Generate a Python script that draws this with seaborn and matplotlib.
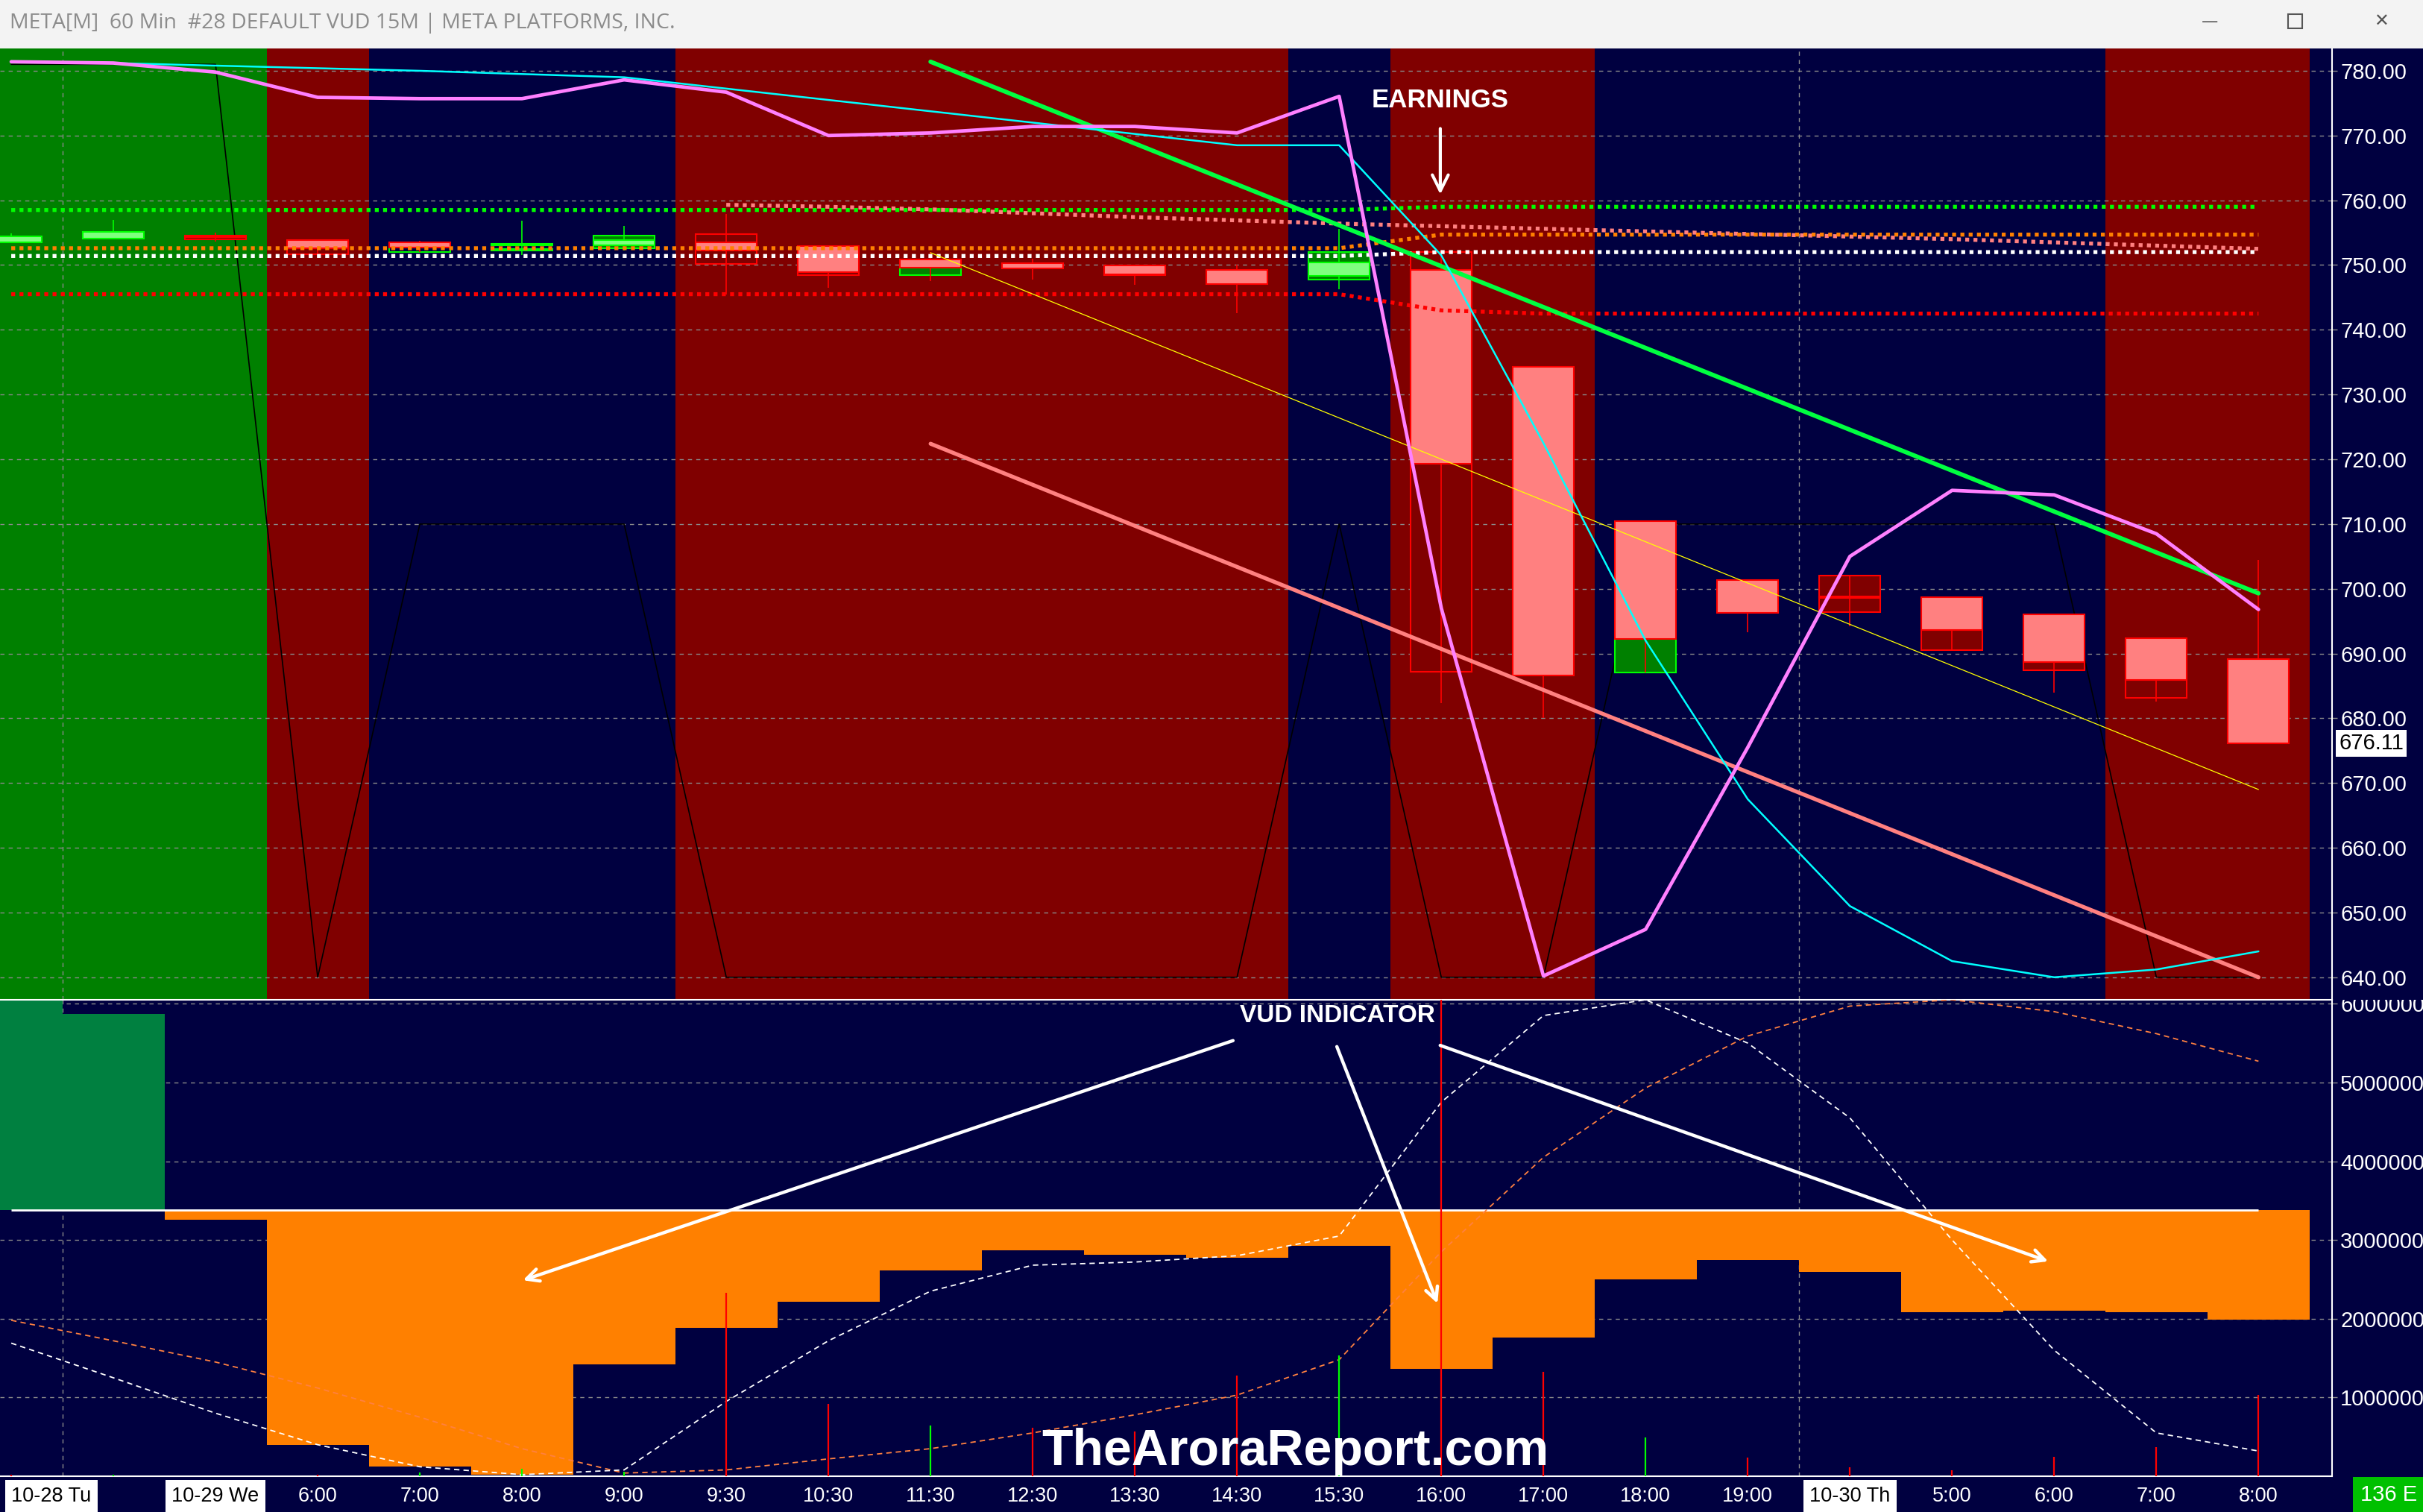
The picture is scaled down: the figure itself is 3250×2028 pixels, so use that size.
import matplotlib
matplotlib.use("Agg")
import numpy as np
import pandas as pd
import matplotlib.pyplot as plt
import matplotlib.transforms as mtransforms
from matplotlib.patches import Rectangle
from matplotlib import font_manager
import seaborn as sns

# ---------------- data (60 min bars, index 0..22) ----------------
x_labels = ["10-28 Tu", "", "10-29 We", "6:00", "7:00", "8:00", "9:00", "9:30", "10:30", "11:30",
            "12:30", "13:30", "14:30", "15:30", "16:00", "17:00", "18:00", "19:00", "10-30 Th",
            "5:00", "6:00", "7:00", "8:00"]
regime = ["g", "g", "g", "r", "b", "b", "b", "r", "r", "r", "r", "r", "r", "b", "r", "r",
          "b", "b", "b", "b", "b", "r", "r"]
regime_level = [781.0, 781.0, 781.0, 640.0, 710.0, 710.0, 710.0, 640.0, 640.0, 640.0, 640.0, 640.0,
                640.0, 710.0, 640.0, 640.0, 710.0, 710.0, 710.0, 710.0, 710.0, 640.0, 640.0]

bar_open = [753.5, 754.05, 754.5, 753.9, 753.55, 753.0, 753.1, 753.5, 752.9, 750.9, 750.3, 749.9,
            749.3, 748.3, 749.3, 734.3, 710.4, 701.3, 698.8, 698.7, 696.1, 692.4, 689.1]
bar_high = [754.9, 757.0, 755.0, 753.9, 753.7, 756.9, 756.0, 757.9, 752.9, 752.0, 751.0, 749.9,
            750.0, 755.6, 752.0, 734.3, 710.4, 701.3, 702.0, 698.7, 696.1, 692.4, 704.5]
bar_low = [753.5, 754.0, 753.6, 751.7, 752.0, 751.5, 752.2, 745.4, 746.5, 747.5, 747.8, 747.0,
           742.6, 746.3, 682.4, 680.1, 687.1, 693.3, 694.2, 690.5, 684.0, 682.6, 676.1]
bar_close = [754.4, 755.1, 754.3, 752.6, 752.7, 753.3, 753.8, 752.3, 748.9, 749.6, 749.5, 748.6,
             747.1, 750.4, 719.3, 686.6, 692.2, 696.3, 698.6, 693.6, 688.7, 685.9, 676.11]

nan = np.nan
box2_low = [nan, nan, 754.0, 751.7, 752.0, 752.2, 752.55, 750.15, 748.5, 748.4, nan, 748.4, nan,
            747.8, 687.2, nan, 687.1, nan, 696.4, 690.5, 687.4, 683.1, nan]
box2_high = [nan, nan, 754.3, 752.6, 752.7, 752.5, 754.6, 754.8, 748.9, 749.6, nan, 748.6, nan,
             752.0, 752.0, nan, 692.2, nan, 702.0, 693.6, 688.7, 685.9, nan]
box2_kind = ["", "", "r", "r", "go", "g", "g", "r", "r", "g", "", "r", "", "g", "r", "", "g", "",
             "r", "r", "r", "r", ""]

ma_magenta = [781.4, 781.2, 779.8, 775.9, 775.7, 775.7, 778.6, 776.7, 770.0, 770.4, 771.4, 771.4,
              770.4, 776.05, 697.0, 640.2, 647.4, 675.5, 705.0, 715.2, 714.5, 708.5, 696.8]
ma_cyan = [781.4, 781.2, 780.8, 780.4, 780.0, 779.5, 779.0, 777.25, 775.5, 773.75, 772.0, 770.25,
           768.5, 768.5, 751.5, 722.5, 692.0, 667.5, 651.0, 642.5, 640.0, 641.2, 644.0]

lvl_green = [758.5, 758.5, 758.5, 758.5, 758.5, 758.5, 758.5, 758.5, 758.5, 758.5, 758.5, 758.5,
             758.5, 758.5, 759.0, 759.0, 759.0, 759.0, 759.0, 759.0, 759.0, 759.0, 759.0]
lvl_orange = [752.6, 752.6, 752.6, 752.6, 752.6, 752.6, 752.6, 752.6, 752.6, 752.6, 752.6, 752.6,
              752.6, 752.6, 754.7, 754.7, 754.7, 754.7, 754.7, 754.7, 754.7, 754.7, 754.7]
lvl_white = [751.4, 751.4, 751.4, 751.4, 751.4, 751.4, 751.4, 751.4, 751.4, 751.4, 751.4, 751.4,
             751.4, 751.4, 752.0, 752.0, 752.0, 752.0, 752.0, 752.0, 752.0, 752.0, 752.0]
lvl_red = [745.5, 745.5, 745.5, 745.5, 745.5, 745.5, 745.5, 745.5, 745.5, 745.5, 745.5, 745.5,
           745.5, 745.5, 743.0, 742.5, 742.5, 742.5, 742.5, 742.5, 742.5, 742.5, 742.5]
lvl_salmon = [nan, nan, nan, nan, nan, nan, nan, 759.3, 759.0, 758.6, 758.0, 757.4, 756.9, 756.4,
              756.0, 755.6, 755.2, 754.8, 754.4, 754.0, 753.5, 753.0, 752.5]

trend_x = [9, 22]
trend_green = [781.4, 699.3]
trend_yellow = [751.9, 669.0]
trend_salmon = [722.4, 640.0]

# lower panel (millions)
vud_zero = 3.38
vud = [6.30, 5.87, 3.26, 0.40, 0.12, 0.02, 1.42, 1.88, 2.22, 2.61, 2.87, 2.81, 2.77, 2.93, 1.36,
       1.76, 2.50, 2.75, 2.59, 2.08, 2.10, 2.08, 1.99]
vud_fast = [1.69, 1.25, 0.80, 0.40, 0.12, 0.02, 0.08, 0.95, 1.72, 2.35, 2.68, 2.72, 2.80, 3.05,
            4.75, 5.85, 6.05, 5.50, 4.55, 3.00, 1.60, 0.55, 0.32]
vud_slow = [1.98, 1.72, 1.45, 1.12, 0.75, 0.35, 0.04, 0.08, 0.22, 0.35, 0.55, 0.78, 1.03, 1.48,
            2.85, 4.05, 4.93, 5.59, 5.97, 6.05, 5.90, 5.62, 5.27]
spikes = [0.02, 0.02, 0.0, 0.02, 0.05, 0.09, 0.06, 2.33, 0.92, 0.64, 0.62, 0.57, 1.28, 1.53, 6.2,
          1.33, 0.49, 0.24, 0.11, 0.08, 0.25, 0.37, 1.03]
spike_dir = ["r", "g", "r", "r", "g", "g", "g", "r", "r", "g", "r", "r", "r", "g", "r", "r", "g",
             "r", "r", "r", "r", "r", "r"]

# ---------------- style ----------------
sns.set_style("dark")
names = {f.name for f in font_manager.fontManager.ttflist}
HAS_NARROW = "Liberation Sans Narrow" in names
NARROW = "Liberation Sans Narrow" if HAS_NARROW else "Liberation Sans"
plt.rcParams["font.family"] = ["Liberation Sans", "DejaVu Sans"]
# font sizes tuned for the narrow face, smaller when only the regular one exists
FS_AXIS = 24 if HAS_NARROW else 21
FS_TIME = 23 if HAS_NARROW else 19.5
FS_NOTE = 29 if HAS_NARROW else 24

NAVY = "#000040"
band_col = {"g": "#008000", "r": "#800000", "b": NAVY}
n = len(bar_open)
xs = np.arange(n)
xlim = (-0.11, 22.72)

W, H = 3250, 2028
fig = plt.figure(figsize=(W / 100, H / 100), dpi=100, facecolor=NAVY)

def fy(py):
    return 1 - py / H

ax1 = fig.add_axes([0, fy(1341), 3128 / W, (1341 - 65) / H])
ax2 = fig.add_axes([0, fy(1980), 3128 / W, (1980 - 1341) / H])

# ---------------- main panel ----------------
ax1.set_facecolor(NAVY)
for i, rg in enumerate(regime):
    if rg != "b":
        ax1.axvspan(i - 0.5, i + 0.5, color=band_col[rg], lw=0, zorder=0)
for v in range(640, 790, 10):
    ax1.axhline(v, color="#8a8a8a", lw=1, ls=(0, (4, 4)), zorder=1)
for v in (0.5, 17.5):
    ax1.axvline(v, color="#8a8a8a", lw=1, ls=(0, (4, 4)), zorder=1)

ax1.plot(xs, regime_level, color="black", lw=1.2, zorder=3)

w = 0.6
for i in range(n):
    o, h, l, c = bar_open[i], bar_high[i], bar_low[i], bar_close[i]
    up = c >= o
    edge = "#00ff00" if up else "#ff0000"
    fill = "#80ff80" if up else "#ff8080"
    k = box2_kind[i]
    if k:
        bedge = "#00ff00" if k.startswith("g") else "#ff0000"
        bfill = "none" if k == "go" else ("#008000" if k == "g" else "#800000")
        ax1.add_patch(Rectangle((i - w / 2, box2_low[i]), w, box2_high[i] - box2_low[i],
                                facecolor=bfill, edgecolor=bedge, lw=1.5, zorder=5))
    ax1.vlines(i, l, h, color=edge, lw=1.2, zorder=6)
    ax1.add_patch(Rectangle((i - w / 2, min(o, c)), w, max(abs(c - o), 0.15),
                            facecolor=fill, edgecolor=edge, lw=1.5, zorder=7))

dot = (0, (1, 1.1))
for vals, col in [(lvl_green, "#00ff00"), (lvl_salmon, "#ff8080"), (lvl_orange, "#ff8000"),
                  (lvl_white, "#ffffff"), (lvl_red, "#ff0000")]:
    ax1.plot(xs, vals, color=col, lw=3.8, ls=dot, zorder=8)

ax1.plot(trend_x, trend_yellow, color="#ffff00", lw=0.9, zorder=8)
ax1.plot(trend_x, trend_salmon, color="#ff8080", lw=3.8, zorder=8)
ax1.plot(trend_x, trend_green, color="#00ff40", lw=4.2, zorder=9)

df_ma = pd.DataFrame({"bar": xs, "magenta": ma_magenta, "cyan": ma_cyan})
sns.lineplot(data=df_ma, x="bar", y="cyan", color="#00ffff", lw=1.8, ax=ax1, zorder=9)
sns.lineplot(data=df_ma, x="bar", y="magenta", color="#ff80ff", lw=3.4, ax=ax1, zorder=10)

ax1.annotate("", xy=(13.99, 760.6), xytext=(13.99, 771.4),
             arrowprops=dict(arrowstyle="->,head_length=0.7,head_width=0.35", color="white",
                             lw=3, mutation_scale=22), zorder=11)
ax1.text(13.99, 775.5, "EARNINGS", color="white", fontsize=FS_NOTE + 1, fontweight="bold",
         family=NARROW, ha="center", va="center", zorder=11)

ax1.set_xlim(xlim)
ax1.set_ylim(636.52, 783.45)
ax1.set_xlabel("")
ax1.set_ylabel("")
ax1.set_xticks([])
ax1.yaxis.tick_right()
ax1.set_yticks(range(640, 790, 10))
ax1.set_yticklabels([f"{v:.2f}" for v in range(640, 790, 10)])
ax1.tick_params(axis="y", colors="#8a8a8a", labelcolor="white", length=5, width=1, pad=3,
                labelsize=FS_AXIS)
for lbl in ax1.get_yticklabels():
    lbl.set_family(NARROW)
for s in ("top", "left", "bottom"):
    ax1.spines[s].set_visible(False)
ax1.spines["right"].set_color("white")
ax1.spines["right"].set_linewidth(1.5)

tr = mtransforms.blended_transform_factory(ax1.transAxes, ax1.transData)
ax1.text(1.003, bar_close[-1], f"{bar_close[-1]:.2f}", transform=tr, color="black",
         fontsize=FS_AXIS, family=NARROW, ha="left", va="center",
         bbox=dict(facecolor="white", edgecolor="none", pad=3), zorder=12, clip_on=False)

# ---------------- lower panel ----------------
ax2.set_facecolor(NAVY)
for v in range(1, 7):
    ax2.axhline(v, color="#8a8a8a", lw=1, ls=(0, (4, 4)), zorder=1)
for v in (0.5, 17.5):
    ax2.axvline(v, color="#8a8a8a", lw=1, ls=(0, (4, 4)), zorder=1)

vud_arr = np.array(vud)
bar_cols = ["#008040" if v > vud_zero else "#ff8000" for v in vud]
ax2.bar(xs, vud_arr - vud_zero, bottom=vud_zero, width=1.0, color=bar_cols, lw=0, zorder=2)
ax2.hlines(vud_zero, 0, n - 1, color="white", lw=2, zorder=3)

df_low = pd.DataFrame({"bar": xs, "fast": vud_fast, "slow": vud_slow})
sns.lineplot(data=df_low, x="bar", y="slow", color="#ff8040", lw=1.3, ls=(0, (4, 3)), ax=ax2,
             zorder=4)
sns.lineplot(data=df_low, x="bar", y="fast", color="white", lw=1.3, ls=(0, (4, 3)), ax=ax2,
             zorder=4)
ax2.vlines(xs, 0, spikes, colors=["#00ff00" if d == "g" else "#ff0000" for d in spike_dir],
           lw=1.6, zorder=5)

arrow_kw = dict(arrowstyle="->,head_length=0.6,head_width=0.3", color="white", lw=3.2,
                mutation_scale=20)
ax2.annotate("", xy=(4.99, 2.48), xytext=(11.98, 5.54), arrowprops=arrow_kw, zorder=6)
ax2.annotate("", xy=(13.97, 2.17), xytext=(12.97, 5.48), arrowprops=arrow_kw, zorder=6)
ax2.annotate("", xy=(19.96, 2.72), xytext=(13.97, 5.48), arrowprops=arrow_kw, zorder=6)
ax2.text(12.98, 5.85, "VUD INDICATOR", color="white", fontsize=FS_NOTE, fontweight="bold",
         family=NARROW, ha="center", va="center", zorder=7)

ax2.set_xlim(xlim)
ax2.set_ylim(0, 6.05)
ax2.set_xlabel("")
ax2.set_ylabel("")
ax2.yaxis.tick_right()
ax2.set_yticks(range(1, 7))
ax2.set_yticklabels([f"{v * 1000000:.0f}" for v in range(1, 7)])
ax2.tick_params(axis="y", colors="#8a8a8a", labelcolor="white", length=5, width=1, pad=3,
                labelsize=FS_AXIS)
for lbl in ax2.get_yticklabels():
    lbl.set_family(NARROW)
ax2.set_xticks(xs)
ax2.set_xticklabels(x_labels)
ax2.tick_params(axis="x", length=0, pad=10, labelsize=FS_TIME, labelcolor="white")
for lbl in ax2.get_xticklabels():
    lbl.set_family(NARROW)
    if "-" in lbl.get_text():
        lbl.set_color("black")
        lbl.set_bbox(dict(facecolor="white", edgecolor="none", pad=6))
first = ax2.get_xticklabels()[0]
first.set_horizontalalignment("left")
ax2.spines["left"].set_visible(False)
for s in ("top", "bottom", "right"):
    ax2.spines[s].set_color("white")
    ax2.spines[s].set_linewidth(1.5)

# cover the part of the top lower-panel label that runs into the price scale
fig.patches.append(Rectangle((3131 / W, fy(1341)), (W - 3131) / W, 16 / H,
                             transform=fig.transFigure, facecolor=NAVY, edgecolor="none",
                             zorder=1))

# ---------------- title bar & extras ----------------
fig.patches.append(Rectangle((0, fy(65)), 1, 65 / H, transform=fig.transFigure,
                             facecolor="#f3f3f3", edgecolor="none", zorder=1))
fig.text(13 / W, fy(31), "META[M]  60 Min  #28 DEFAULT VUD 15M | META PLATFORMS, INC.",
         color="#8c8c8c", fontsize=20.5, family=["Open Sans", "DejaVu Sans"], ha="left",
         va="center")
fig.text(2964 / W, fy(29), "\u2014", color="#555555", fontsize=16, ha="center", va="center",
         family="DejaVu Sans")
fig.patches.append(Rectangle((3069 / W, fy(38)), 19 / W, 19 / H, transform=fig.transFigure,
                             facecolor="none", edgecolor="#555555", lw=1.5, zorder=2))
fig.text(3194 / W, fy(29), "\u2715", color="#555555", fontsize=17, ha="center", va="center",
         family="DejaVu Sans")

fig.text(1737 / W, fy(1965), "TheAroraReport.com", color="white", fontsize=49,
         fontweight="bold", ha="center", va="baseline")
fig.text(3204 / W, fy(2005), "136 E", color="white", fontsize=FS_AXIS, family=NARROW,
         ha="center", va="center", bbox=dict(facecolor="#00c000", edgecolor="none", pad=7))

fig.savefig("out.png", dpi=100, facecolor=NAVY)
